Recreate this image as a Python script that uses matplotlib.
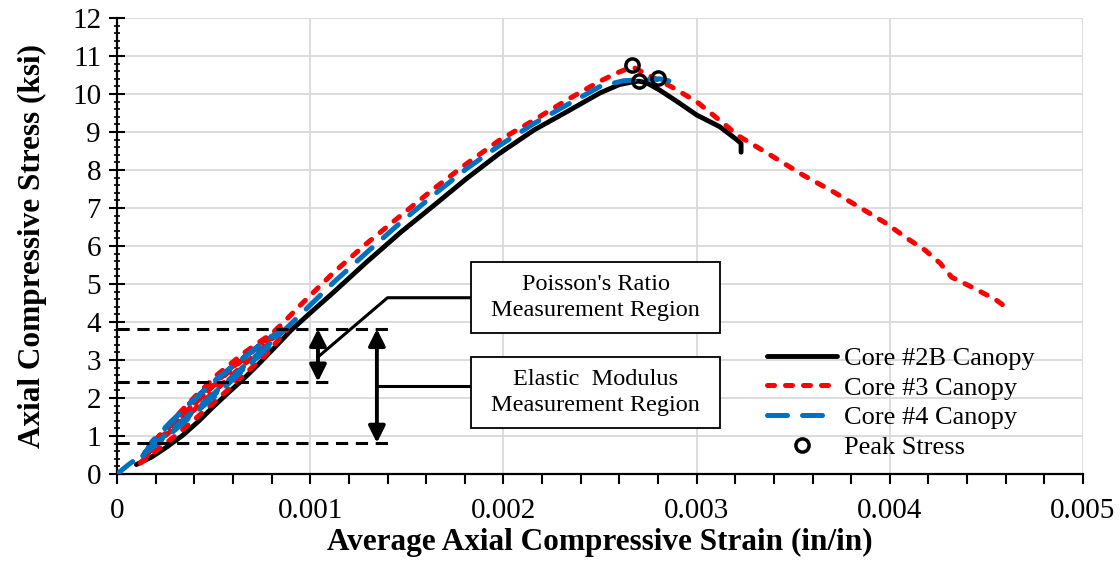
import matplotlib
matplotlib.use("Agg")
import matplotlib.pyplot as plt
from matplotlib.patches import Rectangle
from matplotlib.ticker import MultipleLocator, FuncFormatter

plt.rcParams['font.family'] = ['Liberation Serif', 'DejaVu Serif']

# ---------------- data ----------------
core2b_strain = [0.00010, 0.00018, 0.00026, 0.00034, 0.00042, 0.00050, 0.00058, 0.00065,
                 0.00073, 0.00081, 0.00090, 0.00100, 0.00112, 0.00129, 0.00147, 0.00164,
                 0.00181, 0.00198, 0.00216, 0.00233, 0.00250, 0.00260, 0.00267, 0.00270,
                 0.00274, 0.00281, 0.00290, 0.00300, 0.00312, 0.00321, 0.00323, 0.00323]
core2b_stress = [0.25, 0.45, 0.72, 1.02, 1.38, 1.78, 2.16, 2.48,
                 2.88, 3.30, 3.78, 4.24, 4.78, 5.57, 6.37, 7.07,
                 7.78, 8.44, 9.06, 9.54, 10.03, 10.25, 10.32, 10.34,
                 10.30, 10.10, 9.80, 9.45, 9.14, 8.79, 8.70, 8.47]

core3_strain = [0.00012, 0.00020, 0.00030, 0.00042, 0.00054, 0.00066, 0.00078, 0.00088,
                0.00082, 0.00070, 0.00058, 0.00046, 0.00034, 0.00024, 0.00016, 0.00013,
                0.00018, 0.00026, 0.00038, 0.00050, 0.00062, 0.00074, 0.00086,
                0.00080, 0.00066, 0.00052, 0.00040, 0.00028, 0.00020, 0.00014,
                0.00018, 0.00024, 0.00032, 0.00045, 0.00053, 0.00064, 0.00078, 0.00086,
                0.00095, 0.00112, 0.00129, 0.00147, 0.00164, 0.00181, 0.00198, 0.00216,
                0.00233, 0.00250, 0.00259, 0.002667, 0.00273, 0.00287, 0.00300, 0.00316,
                0.00321, 0.00338, 0.00355, 0.00370, 0.00385, 0.00398, 0.00409, 0.00418,
                0.00426, 0.00432, 0.00444, 0.00455, 0.00462]
core3_stress = [0.29, 0.60, 1.00, 1.52, 2.06, 2.62, 3.20, 3.80,
                3.68, 3.22, 2.70, 2.14, 1.56, 1.02, 0.55, 0.32,
                0.70, 1.05, 1.60, 2.16, 2.72, 3.25, 3.85,
                3.70, 3.20, 2.62, 2.02, 1.38, 0.90, 0.35,
                0.75, 1.12, 1.48, 2.08, 2.50, 3.00, 3.60, 3.98,
                4.45, 5.30, 6.06, 6.81, 7.51, 8.17, 8.79, 9.32,
                9.85, 10.34, 10.56, 10.72, 10.55, 10.19, 9.80, 9.14,
                8.92, 8.40, 7.87, 7.45, 7.00, 6.60, 6.20, 5.90,
                5.55, 5.18, 4.88, 4.58, 4.32]

core4_strain = [0.0, 0.00006, 0.00014, 0.00024, 0.00036, 0.00050, 0.00062, 0.00074, 0.00085,
                0.00078, 0.00064, 0.00050, 0.00036, 0.00024, 0.00016, 0.00012,
                0.00018, 0.00027, 0.00039, 0.00052, 0.00064, 0.00076, 0.00086,
                0.00079, 0.00065, 0.00051, 0.00038, 0.00026, 0.00018, 0.00013,
                0.00018, 0.00026, 0.00036, 0.00048, 0.00060, 0.00072, 0.00084, 0.00092,
                0.00112, 0.00129, 0.00147, 0.00164, 0.00181, 0.00198, 0.00216,
                0.00233, 0.00250, 0.00262, 0.00272, 0.00281, 0.00288]
core4_stress = [0.0, 0.25, 0.55, 0.90, 1.42, 2.02, 2.58, 3.15, 3.75,
                3.55, 3.00, 2.42, 1.78, 1.15, 0.65, 0.40,
                0.72, 1.08, 1.60, 2.16, 2.70, 3.22, 3.78,
                3.60, 3.05, 2.48, 1.88, 1.28, 0.85, 0.42,
                0.72, 1.08, 1.50, 2.02, 2.58, 3.12, 3.66, 4.05,
                5.04, 5.82, 6.63, 7.35, 8.04, 8.65, 9.23,
                9.72, 10.20, 10.35, 10.38, 10.40, 10.32]

peak_strain = [0.002667, 0.00270, 0.00280]
peak_stress = [10.76, 10.35, 10.42]

series_labels = ['Core #2B Canopy', 'Core #3 Canopy', 'Core #4 Canopy', 'Peak Stress']

# measurement-region reference levels (ksi)
elastic_low, poisson_low, upper_level = 0.82, 2.43, 3.82

# ---------------- figure ----------------
fig = plt.figure(figsize=(11.2, 5.65), dpi=100)
ax = fig.add_axes([0.1045, 0.161, 0.8625, 0.807])

l1, = ax.plot(core2b_strain, core2b_stress, color='black', lw=3.5,
              solid_capstyle='round', solid_joinstyle='round', zorder=3)
l2, = ax.plot(core3_strain, core3_stress, color='#FF0000', lw=3.6,
              dashes=(1.4, 2.2), dash_capstyle='round', zorder=4)
l3, = ax.plot(core4_strain, core4_stress, color='#0070C0', lw=3.6,
              dashes=(4.0, 3.0), dash_capstyle='round', zorder=5)
l4, = ax.plot(peak_strain, peak_stress, ls='none', marker='o', ms=9.5,
              mfc='none', mec='black', mew=2.5, zorder=6)

ax.set_xlim(0, 0.005)
ax.set_ylim(0, 12)
ax.xaxis.set_major_locator(MultipleLocator(0.001))
ax.xaxis.set_minor_locator(MultipleLocator(0.0002))
ax.yaxis.set_major_locator(MultipleLocator(1))
ax.yaxis.set_minor_locator(MultipleLocator(0.2))
ax.xaxis.set_major_formatter(FuncFormatter(lambda v, p: '0' if abs(v) < 1e-12 else '%g' % v))

ax.grid(True, which='major', color='#D9D9D9', lw=1.3, zorder=0)
ax.set_axisbelow(True)
for s in ['top', 'right']:
    ax.spines[s].set_visible(False)
for s in ['left', 'bottom']:
    ax.spines[s].set_linewidth(1.6)

ax.tick_params(axis='x', which='both', direction='out', length=7, width=1.5,
               labelsize=21, pad=10)
ax.tick_params(axis='y', which='major', direction='inout', length=11, width=1.5,
               labelsize=21, pad=6)
ax.tick_params(axis='y', which='minor', direction='inout', length=5, width=1.2)

ax.set_xlabel('Average Axial Compressive Strain (in/in)', fontsize=22.5, fontweight='bold')
ax.set_ylabel('Axial Compressive Stress (ksi)', fontsize=22.5, fontweight='bold')
ax.xaxis.set_label_coords(0.5, -0.118)
ax.yaxis.set_label_coords(-0.073, 0.5)

# ---------------- annotations ----------------
dash_kw = dict(color='black', lw=2.2, dashes=(4, 2.5), zorder=7)
ax.plot([0, 0.00140], [upper_level, upper_level], **dash_kw)
ax.plot([0, 0.00109], [poisson_low, poisson_low], **dash_kw)
ax.plot([0, 0.00143], [elastic_low, elastic_low], **dash_kw)

arr_kw = dict(arrowstyle='<|-|>', color='black', lw=2.8, mutation_scale=25,
              shrinkA=0, shrinkB=0)
ax.annotate('', xy=(0.00104, upper_level), xytext=(0.00104, poisson_low),
            arrowprops=arr_kw, zorder=8)
ax.annotate('', xy=(0.001345, upper_level), xytext=(0.001345, elastic_low),
            arrowprops=arr_kw, zorder=8)

# leader lines
ax.plot([0.00104, 0.00140, 0.001834], [3.08, 4.64, 4.64], color='black', lw=2.2, zorder=7)
ax.plot([0.001345, 0.001834], [2.32, 2.32], color='black', lw=2.2, zorder=7)

# text boxes
box_x0, box_x1 = 0.001834, 0.00312
for (y0, y1, txt) in [(3.71, 5.58, "Poisson's Ratio\nMeasurement Region"),
                      (1.21, 3.08, "Elastic  Modulus\nMeasurement Region")]:
    ax.add_patch(Rectangle((box_x0, y0), box_x1 - box_x0, y1 - y0, facecolor='white',
                           edgecolor='black', lw=1.3, zorder=8))
    ax.text((box_x0 + box_x1) / 2, (y0 + y1) / 2, txt, ha='center', va='center',
            fontsize=17.5, linespacing=1.3, zorder=9)

leg = ax.legend([l1, l2, l3, l4], series_labels, loc='upper left',
                bbox_to_anchor=(0.673, 0.28), frameon=False, fontsize=19,
                handlelength=2.65, handletextpad=0.25, labelspacing=0.235,
                borderpad=0, borderaxespad=0)

fig.savefig('out.png', dpi=100)
